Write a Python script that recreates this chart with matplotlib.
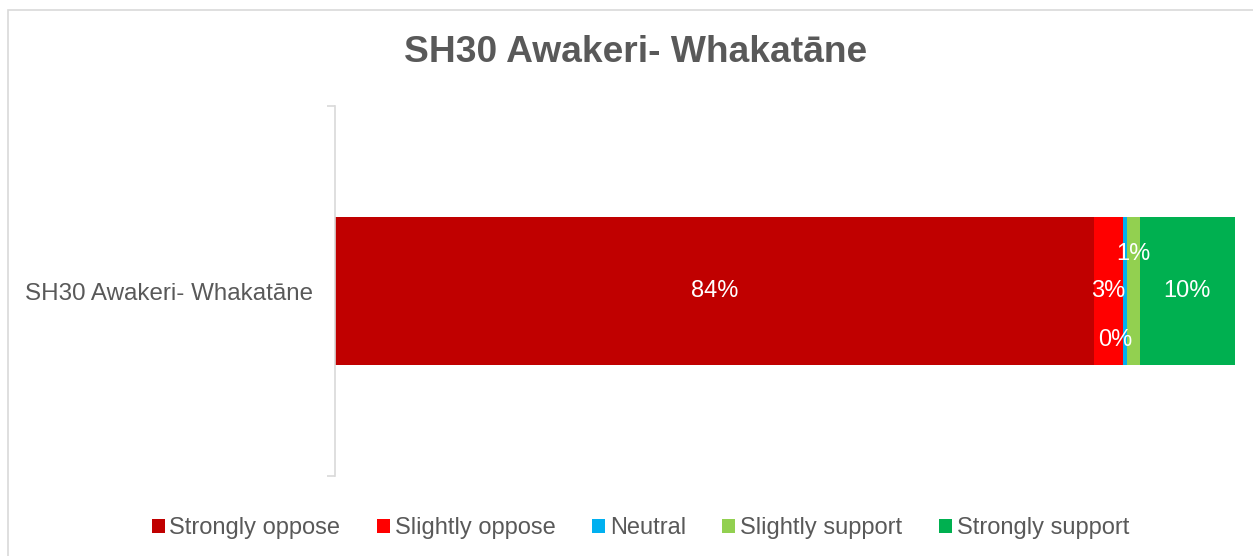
import matplotlib.pyplot as plt
from matplotlib.patches import Patch, Rectangle

plt.rcParams['font.family'] = ['Liberation Sans', 'DejaVu Sans']

# --- data ---
category = 'SH30 Awakeri- Whakatāne'
responses = ['Strongly oppose', 'Slightly oppose', 'Neutral', 'Slightly support', 'Strongly support']
shares = [84.3, 3.3, 0.45, 1.35, 10.6]
labels = ['84%', '3%', '0%', '1%', '10%']
colors = ['#C00000', '#FF0000', '#00B0F0', '#92D050', '#00B050']
# vertical / horizontal nudges (pixels) for labels on the thin segments
label_dy = [0, 0, -49, 37, 0]
label_dx = [0, 0, -10, 0, 0]

W, H = 1253, 556
fig = plt.figure(figsize=(W / 100, H / 100), dpi=100)

# outer chart frame
fig.patches.append(Rectangle((8 / W, -0.2), 1.2, 1.2 - 10 / H,
                             transform=fig.transFigure, fill=False,
                             edgecolor='#d9d9d9', linewidth=1.2))

ax = fig.add_axes([335 / W, 1 - 476 / H, 900 / W, 370 / H])

left = 0.0
for share, lab, col, dy, dx in zip(shares, labels, colors, label_dy, label_dx):
    ax.barh(0, share, left=left, height=0.4, color=col, edgecolor='none')
    ax.annotate(lab, (left + share / 2, 0), xytext=(dx, dy),
                textcoords='offset pixels', ha='center', va='center',
                color='white', fontsize=17)
    left += share

ax.set_xlim(0, left)
ax.set_ylim(-0.5, 0.5)
ax.set_xticks([])
ax.set_yticks([0])
ax.set_yticklabels([category], fontsize=17.4, color='#595959')
ax.set_yticks([-0.5, 0.5], minor=True)
ax.tick_params(axis='y', which='major', length=0, pad=15.5)
ax.tick_params(axis='y', which='minor', length=5.5, width=1.2, color='#d9d9d9', direction='out')
for side in ['top', 'right', 'bottom']:
    ax.spines[side].set_visible(False)
ax.spines['left'].set_color('#d9d9d9')
ax.spines['left'].set_linewidth(1.2)

fig.text(0.507, 1 - 53 / H, category, ha='center', va='center',
         fontsize=26.7, fontweight='bold', color='#595959')

handles = [Patch(facecolor=c, edgecolor='none', label=r) for r, c in zip(responses, colors)]
fig.legend(handles=handles, loc='center', bbox_to_anchor=(0.511, 1 - 528 / H),
           ncol=5, frameon=False, fontsize=17, handlelength=0.55, handleheight=0.55,
           handletextpad=0.2, columnspacing=1.55, labelcolor='#595959')

fig.savefig('out.png', dpi=100)
